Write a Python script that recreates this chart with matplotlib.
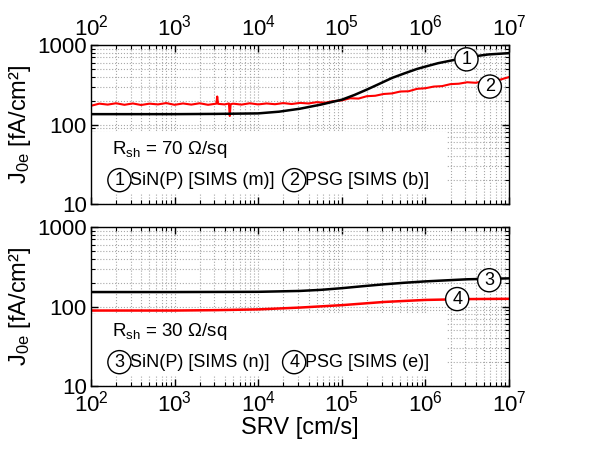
import numpy as np
import matplotlib
matplotlib.use('Agg')
import matplotlib.pyplot as plt
from matplotlib.ticker import LogLocator, FuncFormatter, NullFormatter
from matplotlib.patches import Rectangle

plt.rcParams['font.family'] = ['Liberation Sans', 'DejaVu Sans']
plt.rcParams['mathtext.fontset'] = 'custom'
plt.rcParams['mathtext.rm'] = 'Liberation Sans'
plt.rcParams['mathtext.it'] = 'Liberation Sans:italic'

# Panel oben (R_sh = 70 Ohm/sq), Exponenten von SRV
exp_1 = [2.0, 3.0, 3.5, 4.0, 4.25, 4.5, 4.75, 5.0, 5.15, 5.3, 5.45, 5.6, 5.75,
         5.9, 6.0, 6.15, 6.3, 6.5, 6.75, 7.0]
j0e_1 = [135, 135, 136, 138, 145, 158, 178, 205, 235, 275, 325, 385, 440,
         500, 535, 590, 635, 700, 760, 790]

exp_2 = [2.0, 2.1, 2.2, 2.3, 2.4, 2.5, 2.6, 2.7, 2.8, 2.9, 3.0, 3.1, 3.2, 3.3,
         3.4, 3.5, 3.51, 3.52, 3.6, 3.65, 3.66, 3.67, 3.7, 3.8, 3.9, 4.0, 4.1,
         4.2, 4.3, 4.4, 4.5, 4.6, 4.7, 4.8, 4.9, 5.0, 5.1, 5.2, 5.3, 5.4, 5.5,
         5.6, 5.7, 5.8, 5.9, 6.0, 6.1, 6.2, 6.3, 6.4, 6.5, 6.6, 6.7, 6.8, 6.9, 7.0]
j0e_2 = [172, 183, 178, 185, 177, 184, 176, 183, 179, 186, 177, 184, 178, 185,
         177, 183, 225, 182, 179, 184, 128, 180, 183, 178, 185, 179, 184, 180,
         186, 181, 187, 184, 191, 188, 197, 201, 214, 212, 227, 230, 242, 246,
         260, 262, 281, 286, 300, 304, 322, 326, 340, 335, 350, 356, 368, 395]

# Panel unten (R_sh = 30 Ohm/sq)
exp_3 = [2.0, 3.0, 4.0, 4.5, 4.75, 5.0, 5.25, 5.5, 5.75, 6.0, 6.5, 7.0]
j0e_3 = [152, 152, 153, 157, 162, 170, 180, 190, 199, 207, 220, 226]

exp_4 = [2.0, 3.0, 3.5, 4.0, 4.5, 5.0, 5.5, 6.0, 6.5, 7.0]
j0e_4 = [89, 89, 90, 92, 97, 104, 114, 121, 124, 125]

# Beschriftungen
rsh_top = r'R$_{\mathregular{sh}}$ = 70 Ω/sq'
rsh_bot = r'R$_{\mathregular{sh}}$ = 30 Ω/sq'
leg_top = ['SiN(P) [SIMS (m)]', 'PSG [SIMS (b)]']
leg_bot = ['SiN(P) [SIMS (n)]', 'PSG [SIMS (e)]']

# Position der Kreisnummern (SRV, J0e)
marks_top = [('1', 3.1e6, 660), ('2', 5.9e6, 300)]
marks_bot = [('3', 5.8e6, 214), ('4', 2.4e6, 124)]

circ = dict(boxstyle='circle,pad=0.17', fc='white', ec='black', lw=1.0)

fs_tick, fs_lab, fs_leg = 16, 17, 13

fig = plt.figure(figsize=(6.09, 4.55), dpi=100)
ax1 = fig.add_axes([0.1494, 0.5516, 0.6864, 0.3495])
ax2 = fig.add_axes([0.1494, 0.1516, 0.6864, 0.3495])


def setup(ax):
    ax.set_xscale('log')
    ax.set_yscale('log')
    ax.set_xlim(1e2, 1e7)
    ax.set_ylim(10, 1000)
    ax.set_axisbelow(True)
    ax.xaxis.set_major_locator(LogLocator(base=10, numticks=10))
    ax.xaxis.set_minor_locator(LogLocator(base=10, subs=np.arange(2, 10), numticks=20))
    ax.xaxis.set_minor_formatter(NullFormatter())
    ax.yaxis.set_major_locator(LogLocator(base=10, numticks=10))
    ax.yaxis.set_minor_locator(LogLocator(base=10, subs=np.arange(2, 10), numticks=20))
    ax.yaxis.set_minor_formatter(NullFormatter())
    ax.yaxis.set_major_formatter(FuncFormatter(lambda v, p: f'{v:g}'))
    ax.grid(True, which='both', color='#a8a8a8', linestyle=':', linewidth=0.8)
    ax.tick_params(which='both', direction='in', top=True, right=True, labelsize=fs_tick)
    ax.tick_params(which='major', length=5, width=1, pad=3)
    ax.tick_params(which='minor', length=3, width=0.8)
    for s in ax.spines.values():
        s.set_linewidth(1.0)
    ax.set_ylabel(r'J$_{\mathregular{0e}}$ [fA/cm²]', fontsize=fs_lab, labelpad=3)
    # weisses Feld hinter dem Text
    ax.add_patch(Rectangle((0, 0.06), 0.85, 0.39, transform=ax.transAxes,
                           fc='white', ec='none', zorder=1))


def legend_text(ax, rsh, labels, nums):
    ax.text(0.05, 0.34, rsh, transform=ax.transAxes, fontsize=fs_leg + 0.5, va='center', zorder=3)
    ax.text(0.068, 0.15, nums[0], transform=ax.transAxes, fontsize=fs_leg,
            ha='center', va='center', bbox=circ, zorder=3)
    ax.text(0.094, 0.15, labels[0], transform=ax.transAxes, fontsize=fs_leg,
            va='center', zorder=3)
    ax.text(0.486, 0.15, nums[1], transform=ax.transAxes, fontsize=fs_leg,
            ha='center', va='center', bbox=circ, zorder=3)
    ax.text(0.512, 0.15, labels[1], transform=ax.transAxes, fontsize=fs_leg,
            va='center', zorder=3)


setup(ax1)
setup(ax2)

ax1.plot(10.0 ** np.array(exp_2), j0e_2, color='red', lw=1.5, zorder=2)
ax1.plot(10.0 ** np.array(exp_1), j0e_1, color='black', lw=1.8, zorder=2)
ax2.plot(10.0 ** np.array(exp_4), j0e_4, color='red', lw=1.8, zorder=2)
ax2.plot(10.0 ** np.array(exp_3), j0e_3, color='black', lw=1.8, zorder=2)

for n, x, y in marks_top:
    ax1.text(x, y, n, fontsize=fs_leg, ha='center', va='center', bbox=circ, zorder=4)
for n, x, y in marks_bot:
    ax2.text(x, y, n, fontsize=fs_leg, ha='center', va='center', bbox=circ, zorder=4)

legend_text(ax1, rsh_top, leg_top, ['1', '2'])
legend_text(ax2, rsh_bot, leg_bot, ['3', '4'])

ax1.tick_params(labeltop=True, labelbottom=False)
ax2.set_xlabel('SRV [cm/s]', fontsize=fs_lab, labelpad=1)

fig.savefig('out.png', dpi=100)
